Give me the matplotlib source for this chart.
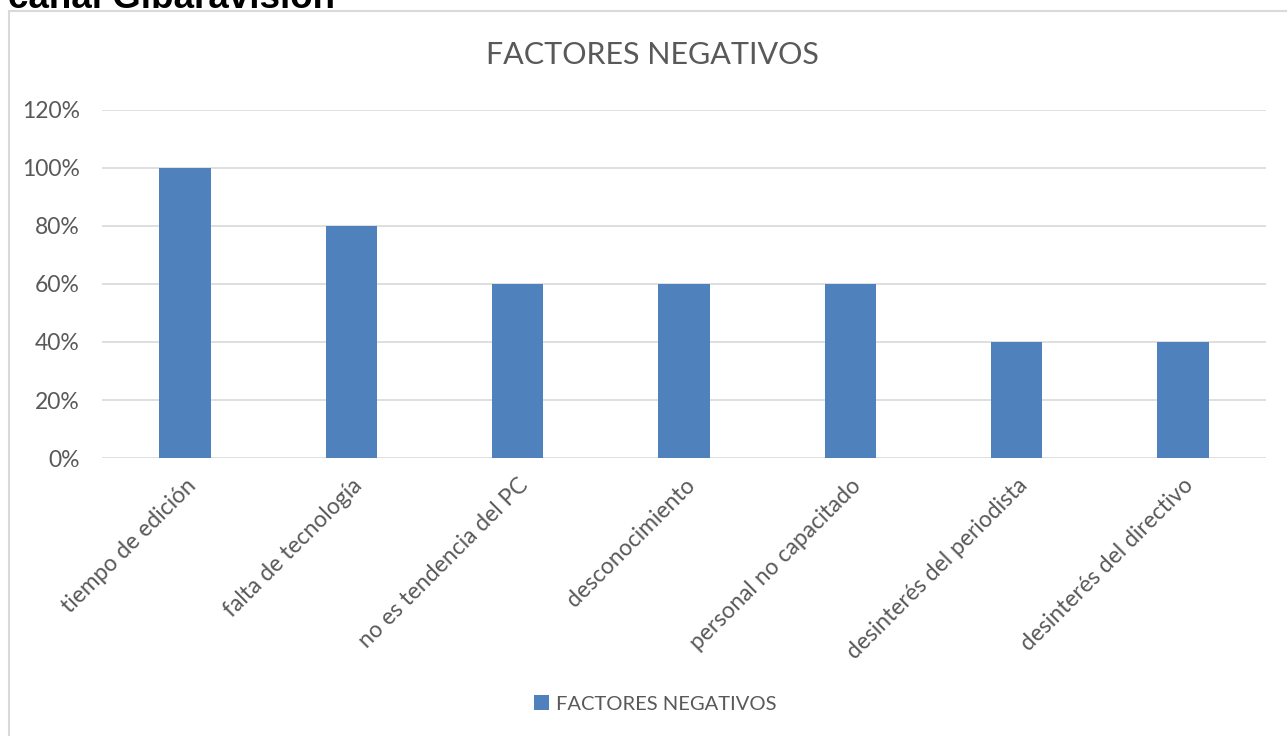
import matplotlib
matplotlib.use("Agg")
import matplotlib.pyplot as plt
from matplotlib.patches import Rectangle

categories = ["tiempo de edición", "falta de tecnología", "no es tendencia del PC",
              "desconocimiento", "personal no capacitado",
              "desinterés del periodista", "desinterés del directivo"]
values = [1.0, 0.8, 0.6, 0.6, 0.6, 0.4, 0.4]
yticks = [0, 0.2, 0.4, 0.6, 0.8, 1.0, 1.2]
ytick_labels = ["0%", "20%", "40%", "60%", "80%", "100%", "120%"]
series_name = "FACTORES NEGATIVOS"

bar_color = "#4F81BD"
text_color = "#595959"
grid_color = "#D9D9D9"

plt.rcParams['font.family'] = ['Lato', 'DejaVu Sans']

fig = plt.figure(figsize=(12.87, 7.36), dpi=100)

# outer chart frame (runs off the right and bottom of the image)
fig.patches.append(Rectangle((8.5 / 1287, -0.05), 1.2, 1 - 11 / 736 + 0.05,
                             transform=fig.transFigure, fill=False,
                             edgecolor=grid_color, linewidth=1.5))

# heading above the chart, cut off by the top edge as in the source
fig.text(8 / 1287, 1 - 7.5 / 736, "canal Gibaravisión", family="Liberation Sans",
         fontweight="bold", fontsize=26.5, color="black", va="baseline", ha="left")

ax = fig.add_axes([102 / 1287, 1 - 458 / 736, (1266 - 102) / 1287, (458 - 110) / 736])
x = range(len(categories))
ax.bar(x, values, width=0.31, color=bar_color, label=series_name, zorder=3)

ax.set_xlim(-0.5, len(categories) - 0.5)
ax.set_ylim(0, 1.2)
ax.set_yticks(yticks)
ax.set_yticklabels(ytick_labels)
ax.set_xticks(list(x))
ax.set_xticklabels(categories, rotation=45, ha="right", rotation_mode="anchor")
ax.tick_params(axis="both", length=0, labelsize=16.5, colors=text_color)
ax.tick_params(axis="y", pad=16)
ax.tick_params(axis="x", pad=12)
ax.grid(axis="y", color=grid_color, linewidth=1.2, zorder=0)
for s in ax.spines.values():
    s.set_visible(False)

fig.text(652 / 1287, 1 - 55 / 736, "FACTORES NEGATIVOS", fontsize=22,
         color=text_color, ha="center", va="center")

fig.legend(loc="center", bbox_to_anchor=(655 / 1287, 1 - 704 / 736), frameon=False,
           fontsize=14.5, labelcolor=text_color, handlelength=0.75, handleheight=0.75,
           handletextpad=0.35)

fig.savefig("out.png", dpi=100)
